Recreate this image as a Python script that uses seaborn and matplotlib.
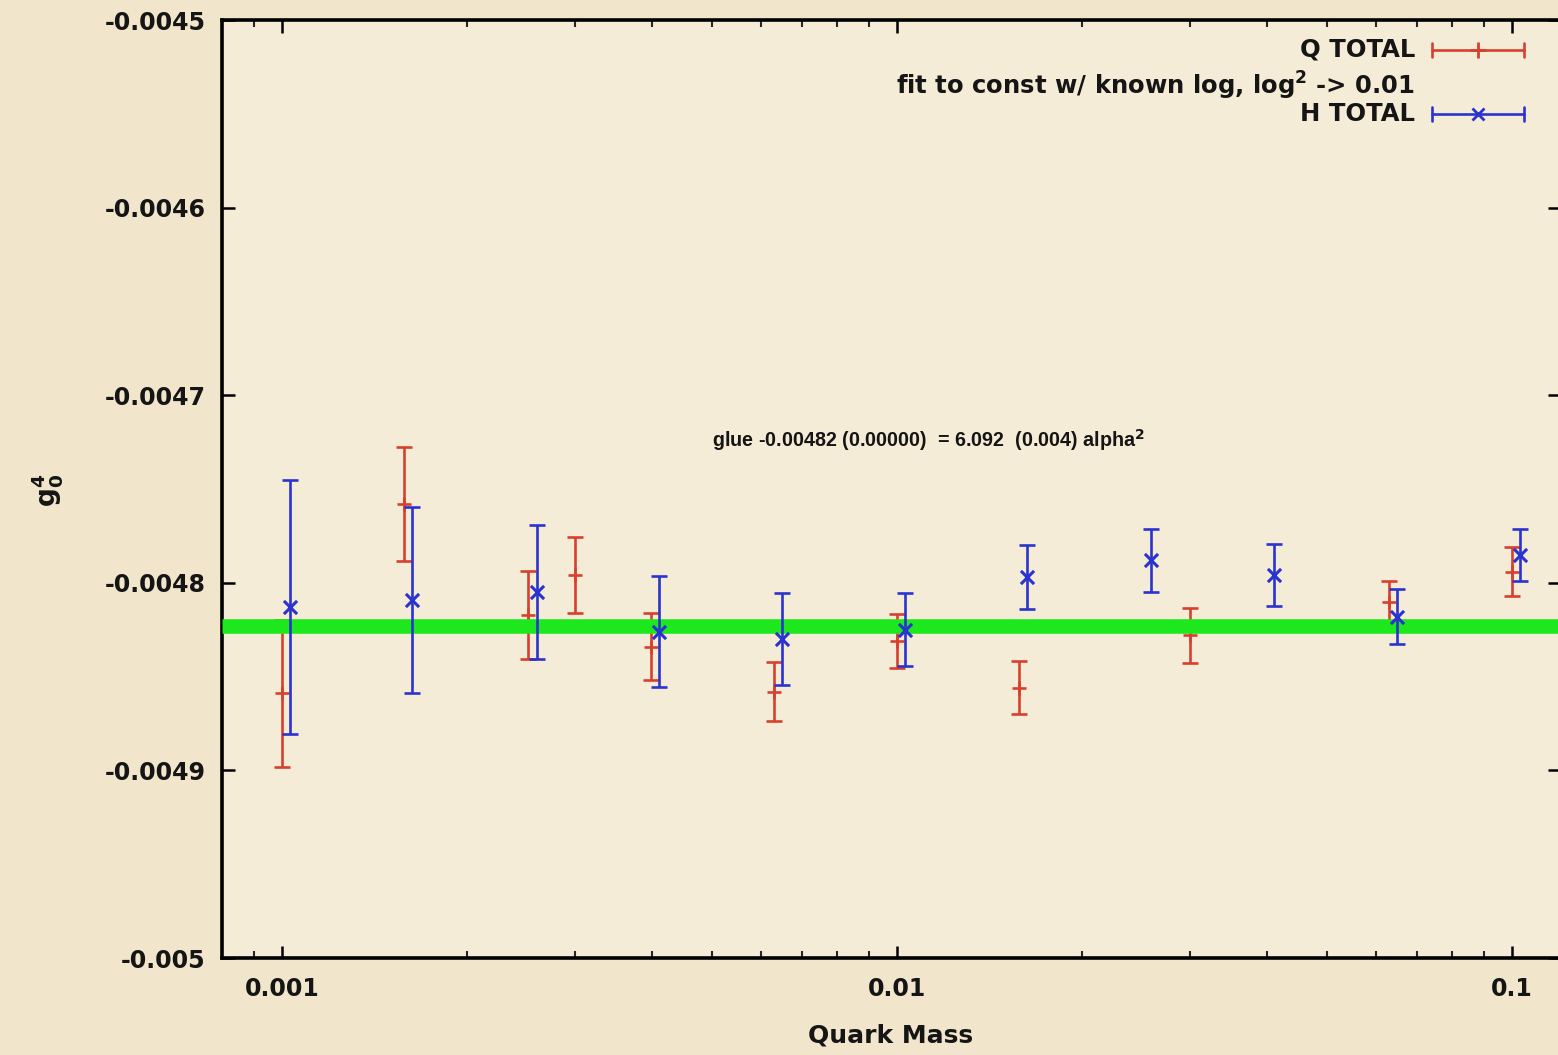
import numpy as np
import pandas as pd
import matplotlib
matplotlib.use("Agg")
import matplotlib.pyplot as plt
import seaborn as sns
from matplotlib.ticker import FixedLocator, FuncFormatter, LogLocator, NullFormatter

# ---------------- data ----------------
q_mass = [0.001, 0.00158, 0.00251, 0.003, 0.00398, 0.00631, 0.01, 0.0158, 0.03, 0.0631, 0.1]
q_total = [-0.004859, -0.004758, -0.004817, -0.004796, -0.004834, -0.004858,
           -0.004831, -0.004856, -0.004828, -0.004810, -0.004794]
q_err = [3.94e-5, 3.04e-5, 2.35e-5, 2.03e-5, 1.78e-5, 1.57e-5,
         1.42e-5, 1.42e-5, 1.45e-5, 1.10e-5, 1.32e-5]

h_mass = [0.00103, 0.00163, 0.0026, 0.0041, 0.0065, 0.0103, 0.0163, 0.0259, 0.041, 0.065, 0.103]
h_total = [-0.004813, -0.004809, -0.004805, -0.004826, -0.004830, -0.004825,
           -0.004797, -0.004788, -0.004796, -0.004818, -0.004785]
h_err = [6.77e-5, 4.96e-5, 3.57e-5, 2.98e-5, 2.46e-5, 1.96e-5,
         1.71e-5, 1.67e-5, 1.66e-5, 1.46e-5, 1.38e-5]

fit_value = -0.004823

y_ticks = [-0.0045, -0.0046, -0.0047, -0.0048, -0.0049, -0.005]
x_ticks = [0.001, 0.01, 0.1]

legend_labels = ["Q TOTAL", "fit to const w/ known log, log$^2$ -> 0.01", "H TOTAL"]
annotation = "glue -0.00482 (0.00000)  = 6.092  (0.004) alpha$^2$"

# ---------------- style ----------------
sns.set_theme(style="ticks")
plt.rcParams['font.family'] = ['DejaVu Sans']
plt.rcParams['font.weight'] = 'bold'
plt.rcParams['mathtext.fontset'] = 'custom'
plt.rcParams['mathtext.rm'] = 'DejaVu Sans:bold'
plt.rcParams['mathtext.it'] = 'DejaVu Sans:italic:bold'
plt.rcParams['mathtext.bf'] = 'DejaVu Sans:bold'

paper = '#f4ecd7'
red = '#d8402e'
blue = '#2a33cf'
green = '#1de81d'
ink = '#151515'

W, H = 1558, 1055
fig = plt.figure(figsize=(W / 100, H / 100), dpi=100, facecolor='#f1e6cc')
ax_left, ax_right, ax_top, ax_bottom = 222, 1560, 20, 958
ax = fig.add_axes([ax_left / W, 1 - ax_bottom / H, (ax_right - ax_left) / W, (ax_bottom - ax_top) / H])
ax.set_facecolor(paper)

q_df = pd.DataFrame({"mass": q_mass, "val": q_total, "err": q_err})
h_df = pd.DataFrame({"mass": h_mass, "val": h_total, "err": h_err})

# Q TOTAL (red)
ax.errorbar(q_df["mass"], q_df["val"], yerr=q_df["err"], fmt='none', ecolor=red,
            elinewidth=1.9, capsize=5.5, capthick=1.9, zorder=2)
sns.scatterplot(data=q_df, x="mass", y="val", marker='+', s=110, color=red,
                linewidth=1.9, ax=ax, zorder=2, legend=False)

# fit line (green)
ax.axhline(fit_value, color=green, lw=10.5, zorder=3, solid_capstyle='butt')

# H TOTAL (blue)
ax.errorbar(h_df["mass"], h_df["val"], yerr=h_df["err"], fmt='none', ecolor=blue,
            elinewidth=1.9, capsize=5.5, capthick=1.9, zorder=4)
sns.scatterplot(data=h_df, x="mass", y="val", marker='x', s=90, color=blue,
                linewidth=2.2, ax=ax, zorder=4, legend=False)

# ---------------- axes ----------------
ax.set_xscale('log')
lx0 = -3 - (282 - ax_left) / 615.0
lx1 = -3 + (ax_right - 282) / 615.0
ax.set_xlim(10 ** lx0, 10 ** lx1)
ax.set_ylim(-0.005, -0.0045)

ax.yaxis.set_major_locator(FixedLocator(y_ticks))
ax.yaxis.set_major_formatter(FuncFormatter(lambda v, p: f"{v:g}"))
ax.xaxis.set_major_locator(FixedLocator(x_ticks))
ax.xaxis.set_major_formatter(FuncFormatter(lambda v, p: f"{v:g}"))
ax.xaxis.set_minor_locator(LogLocator(base=10, subs=np.arange(2, 10)))
ax.xaxis.set_minor_formatter(NullFormatter())

for s in ax.spines.values():
    s.set_visible(True)
    s.set_color('black')
    s.set_linewidth(2.6)

ax.tick_params(axis='both', which='major', direction='in', length=9, width=1.8,
               top=True, right=True, colors='black', labelsize=17, labelcolor=ink)
ax.tick_params(axis='x', which='minor', direction='in', length=5, width=1.5,
               top=True, bottom=True)
ax.tick_params(axis='y', which='major', pad=12)
ax.tick_params(axis='x', which='major', pad=14)

ax.set_xlabel("Quark Mass", fontsize=18, color=ink, labelpad=16, fontweight='bold')
ax.set_ylabel("")
fig.text(47 / W, 1 - 490 / H, r"$\mathrm{g}_\mathrm{0}^\mathrm{4}$", rotation=90, fontsize=19,
         color=ink, ha='center', va='center')

# annotation
ax.text((712 - ax_left) / (ax_right - ax_left), 1 - (440 - ax_top) / (ax_bottom - ax_top),
        annotation, transform=ax.transAxes, fontsize=14.2, color=ink,
        ha='left', va='center', fontweight='bold', family=['Liberation Sans', 'DejaVu Sans'])

# ---------------- legend (gnuplot style) ----------------
def fx(px):
    return px / W

def fy(py):
    return 1 - py / H

text_right = 1415
ly = [50, 86, 114]
for lab, yy in zip(legend_labels, ly):
    fig.text(fx(text_right), fy(yy), lab, ha='right', va='center', fontsize=17.5,
             color=ink, fontweight='bold')

s0, s1, smid = 1432, 1524, 1478
cap = 7
for yy, col, mk, ms in [(ly[0], red, '+', 11), (ly[2], blue, 'x', 9)]:
    fig.add_artist(plt.Line2D([fx(s0), fx(s1)], [fy(yy), fy(yy)], color=col, lw=1.9,
                              transform=fig.transFigure))
    for xx in (s0, s1):
        fig.add_artist(plt.Line2D([fx(xx), fx(xx)], [fy(yy - cap), fy(yy + cap)], color=col,
                                  lw=1.9, transform=fig.transFigure))
    fig.add_artist(plt.Line2D([fx(smid)], [fy(yy)], color=col, marker=mk, ms=ms, mew=2.0,
                              lw=0, transform=fig.transFigure))

fig.savefig("out.png", dpi=100, facecolor=fig.get_facecolor())
